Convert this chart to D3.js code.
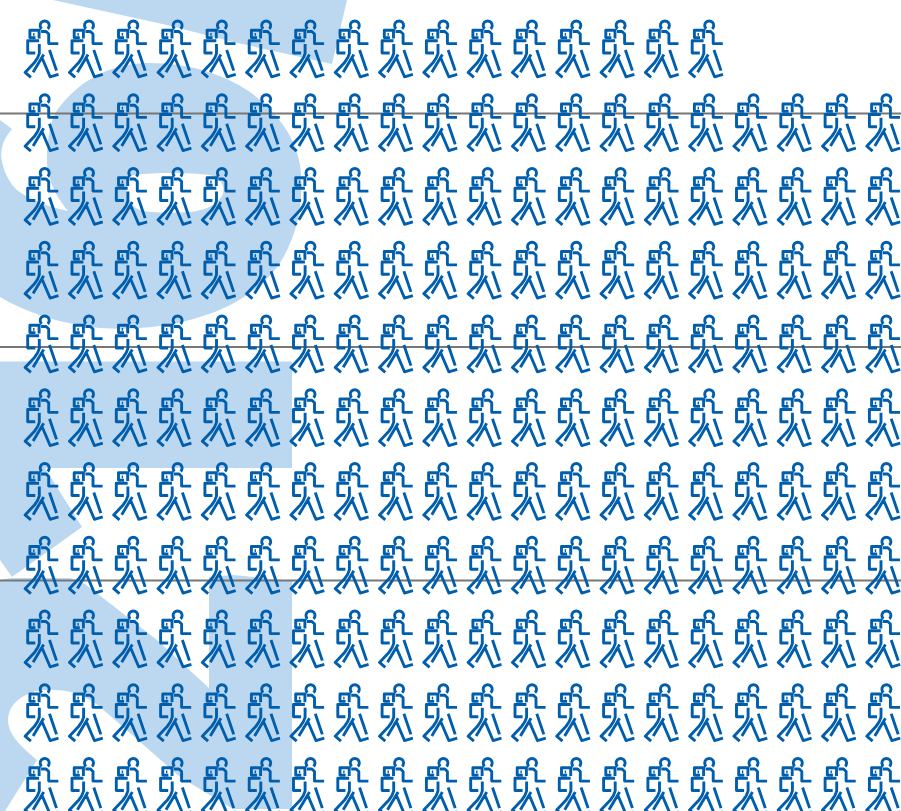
<!DOCTYPE html>
<html>
<head>
<meta charset="utf-8">
<script src="https://cdn.jsdelivr.net/npm/d3@7"></script>
<style>
html, body { margin: 0; padding: 0; background: #fff; overflow: hidden; }
svg { display: block; }
</style>
</head>
<body>
<script>
var width = 901,
    height = 811;

// people drawn in each row, top row first
var rowCounts = [16, 20, 20, 20, 20, 20, 20, 20, 20, 20, 20];
// horizontal rules, in row units
var gridRows = [1.267, 4.435, 7.6];

// walking person, 35x58 box
var personPath = "M18.2 8.8A4.5 4.5 0 1 1 24.2 8.8" +
    "M17.6 11.5H22.6L25.2 14V23.6H34.8" +
    "M15.6 18.5V10.2H6.4V17.6H12" +
    "M9.6 14.4H11" +
    "M15.6 20.8H4.2V33H11.8" +
    "M15.8 24V33.5C15 37 13 40 11 42.5L1.6 52.4L7.4 57.4" +
    "M20.2 34.5L9.6 52.2" +
    "M26 30L33 50.6" +
    "M18.8 38.5L26.6 56.8L35 54.4";

// pale shapes behind the people
var backShapes = [
    "M53 0L167 25L233 42L332 64L347 0Z",
    "M0 120L12 129Q-2 145 2 162Q6 180 17 190Q35 204 68 211Q50 190 47 165Q46 130 57 110Q90 66 143 63" +
    "C190 62 225 75 250 92C275 110 295 135 300 165C305 200 297 240 277 267C255 295 225 310 200 317" +
    "C165 328 130 330 100 328C60 324 25 312 0 297Z" +
    "M133 175C160 172 190 173 210 175C222 178 226 188 222 196C216 206 205 210 190 212C170 213 150 213 140 210C125 205 122 180 133 175Z",
    "M0 361.5H292V468H45L82 527L12 577L0 560Z",
    "M0 580L12 578L70 578L85 584L157 640L209 688V577L233 575L292 581V809H233L180 777L130 733L100 707" +
    "C85 695 70 690 55 690C40 689 28 692 18 700C8 708 6 720 10 730C15 742 28 752 37 760L5 811H0Z"
];

var svg = d3.select("body").append("svg")
    .attr("width", width)
    .attr("height", height);

var x = d3.scaleLinear().domain([0, 19]).range([23.5, 865.2]);
var y = d3.scaleLinear().domain([0, 10]).range([20, 757.5]);

svg.append("g")
    .attr("fill-rule", "evenodd")
    .selectAll("path")
    .data(backShapes)
    .join("path")
    .attr("d", d => d)
    .attr("fill", "#bcd8f0");

svg.append("g")
    .selectAll("line")
    .data(gridRows)
    .join("line")
    .attr("x1", 0)
    .attr("x2", width)
    .attr("y1", d => y(d))
    .attr("y2", d => y(d))
    .attr("stroke", "#777")
    .attr("stroke-width", 2);

var rows = svg.append("g")
    .selectAll("g")
    .data(rowCounts)
    .join("g")
    .attr("transform", (d, i) => "translate(0," + y(i) + ")");

rows.selectAll("path")
    .data(d => d3.range(d))
    .join("path")
    .attr("d", personPath)
    .attr("transform", d => "translate(" + x(d) + ",0)")
    .attr("fill", "none")
    .attr("stroke", "#005ead")
    .attr("stroke-width", 2.9)
    .attr("stroke-linejoin", "round");
</script>
</body>
</html>
